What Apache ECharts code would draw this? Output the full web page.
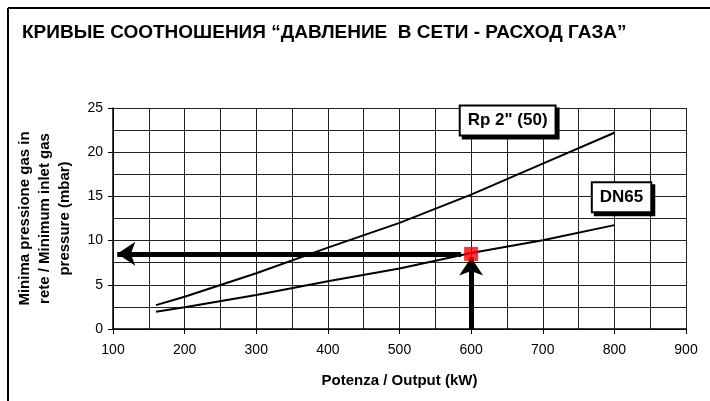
<!DOCTYPE html>
<html>
<head>
<meta charset="utf-8">
<script src="https://cdn.jsdelivr.net/npm/echarts@6/dist/echarts.min.js"></script>
<style>
  html, body { margin: 0; padding: 0; background: #fff; }
  #main { width: 710px; height: 401px; }
</style>
</head>
<body>
<div id="main"></div>
<script>
// data
var titleText = 'КРИВЫЕ СООТНОШЕНИЯ “ДАВЛЕНИЕ  В СЕТИ - РАСХОД ГАЗА”';
var rpName = 'Rp 2" (50)';
var dnName = 'DN65';
var rpData = [[160, 2.7], [200, 3.65], [300, 6.3], [400, 9.2], [500, 12.0], [600, 15.2], [700, 18.7], [800, 22.2]];
var dnData = [[160, 1.96], [200, 2.45], [300, 3.85], [400, 5.4], [500, 6.85], [600, 8.6], [700, 10.05], [800, 11.75]];
var workPoint = [600, 8.5];
var hArrow = [[586, 8.5], [106, 8.5]];
var vArrow = [[600, 0], [600, 8.1]];
var rpLabelPos = [651, 23.6];
var dnLabelPos = [810, 14.9];

var boxLabel = {
  show: true,
  color: '#000',
  fontFamily: 'Liberation Sans, Arial, sans-serif',
  fontWeight: 'bold',
  fontSize: 17,
  backgroundColor: '#fff',
  borderColor: '#000',
  borderWidth: 2,
  padding: [6, 7, 5, 7],
  shadowColor: '#000',
  shadowOffsetX: 3,
  shadowOffsetY: 3,
  shadowBlur: 0,
  position: 'inside'
};

var option = {
  backgroundColor: '#fff',
  animation: false,
  textStyle: { fontFamily: 'Liberation Sans, Arial, sans-serif' },
  title: {
    text: titleText,
    left: 17,
    top: 18,
    textStyle: { fontSize: 19, fontWeight: 'bold', color: '#000', fontFamily: 'Liberation Sans, Arial, sans-serif' }
  },
  graphic: [
    { type: 'line', shape: { x1: 8, y1: 8, x2: 710, y2: 8 }, style: { stroke: '#000', lineWidth: 2 } },
    { type: 'line', shape: { x1: 8, y1: 8, x2: 8, y2: 401 }, style: { stroke: '#000', lineWidth: 2 } }
  ],
  grid: { left: 113, right: 24, top: 108, bottom: 72, containLabel: false, outerBoundsMode: 'none' },
  xAxis: {
    type: 'value',
    min: 100, max: 900, interval: 100,
    name: 'Potenza / Output (kW)',
    nameLocation: 'middle',
    nameGap: 44,
    nameTextStyle: { fontSize: 15, fontWeight: 'bold', color: '#000' },
    axisLine: { show: true, onZero: false, lineStyle: { color: '#000', width: 1.5 } },
    axisTick: { show: true, length: 5, lineStyle: { color: '#000' } },
    axisLabel: { fontSize: 14, color: '#000', margin: 14 },
    splitLine: { show: true, lineStyle: { color: '#222', width: 1 } },
    minorTick: { show: false, splitNumber: 2 },
    minorSplitLine: { show: true, lineStyle: { color: '#222', width: 1 } }
  },
  yAxis: {
    type: 'value',
    min: 0, max: 25, interval: 5,
    name: 'Minima pressione gas in\nrete / Minimum inlet gas\npressure (mbar)',
    nameLocation: 'middle',
    nameRotate: 90,
    nameGap: 38,
    nameTextStyle: { fontSize: 15, fontWeight: 'bold', color: '#000', lineHeight: 20, align: 'center' },
    axisLine: { show: true, lineStyle: { color: '#000', width: 1.5 } },
    axisTick: { show: true, length: 5, lineStyle: { color: '#000' } },
    axisLabel: { fontSize: 14, color: '#000', margin: 10 },
    splitLine: { show: true, lineStyle: { color: '#222', width: 1 } },
    minorTick: { show: false, splitNumber: 2 },
    minorSplitLine: { show: true, lineStyle: { color: '#222', width: 1 } }
  },
  series: [
    {
      name: rpName,
      type: 'line',
      data: rpData,
      symbol: 'none',
      lineStyle: { color: '#000', width: 2 },
      markPoint: {
        symbol: 'rect',
        symbolSize: 1,
        itemStyle: { color: 'rgba(0,0,0,0)' },
        label: Object.assign({ formatter: rpName }, boxLabel),
        data: [{ coord: rpLabelPos }]
      }
    },
    {
      name: dnName,
      type: 'line',
      data: dnData,
      symbol: 'none',
      lineStyle: { color: '#000', width: 2 },
      markPoint: {
        symbol: 'rect',
        symbolSize: 1,
        itemStyle: { color: 'rgba(0,0,0,0)' },
        label: Object.assign({ formatter: dnName }, boxLabel),
        data: [{ coord: dnLabelPos }]
      },
      markLine: {
        silent: true,
        symbol: ['none', 'arrow'],
        symbolSize: [18, 18],
        label: { show: false },
        lineStyle: { color: '#000', width: 5, type: 'solid' },
        data: [
          [{ coord: hArrow[0] }, { coord: hArrow[1] }],
          [{ coord: vArrow[0] }, { coord: vArrow[1] }]
        ]
      }
    },
    {
      name: 'point',
      type: 'scatter',
      data: [workPoint],
      symbol: 'rect',
      symbolSize: 14,
      itemStyle: { color: '#ff0000' },
      z: 5
    }
  ]
};

var myChart = echarts.init(document.getElementById('main'));
myChart.setOption(option);
</script>
</body>
</html>
